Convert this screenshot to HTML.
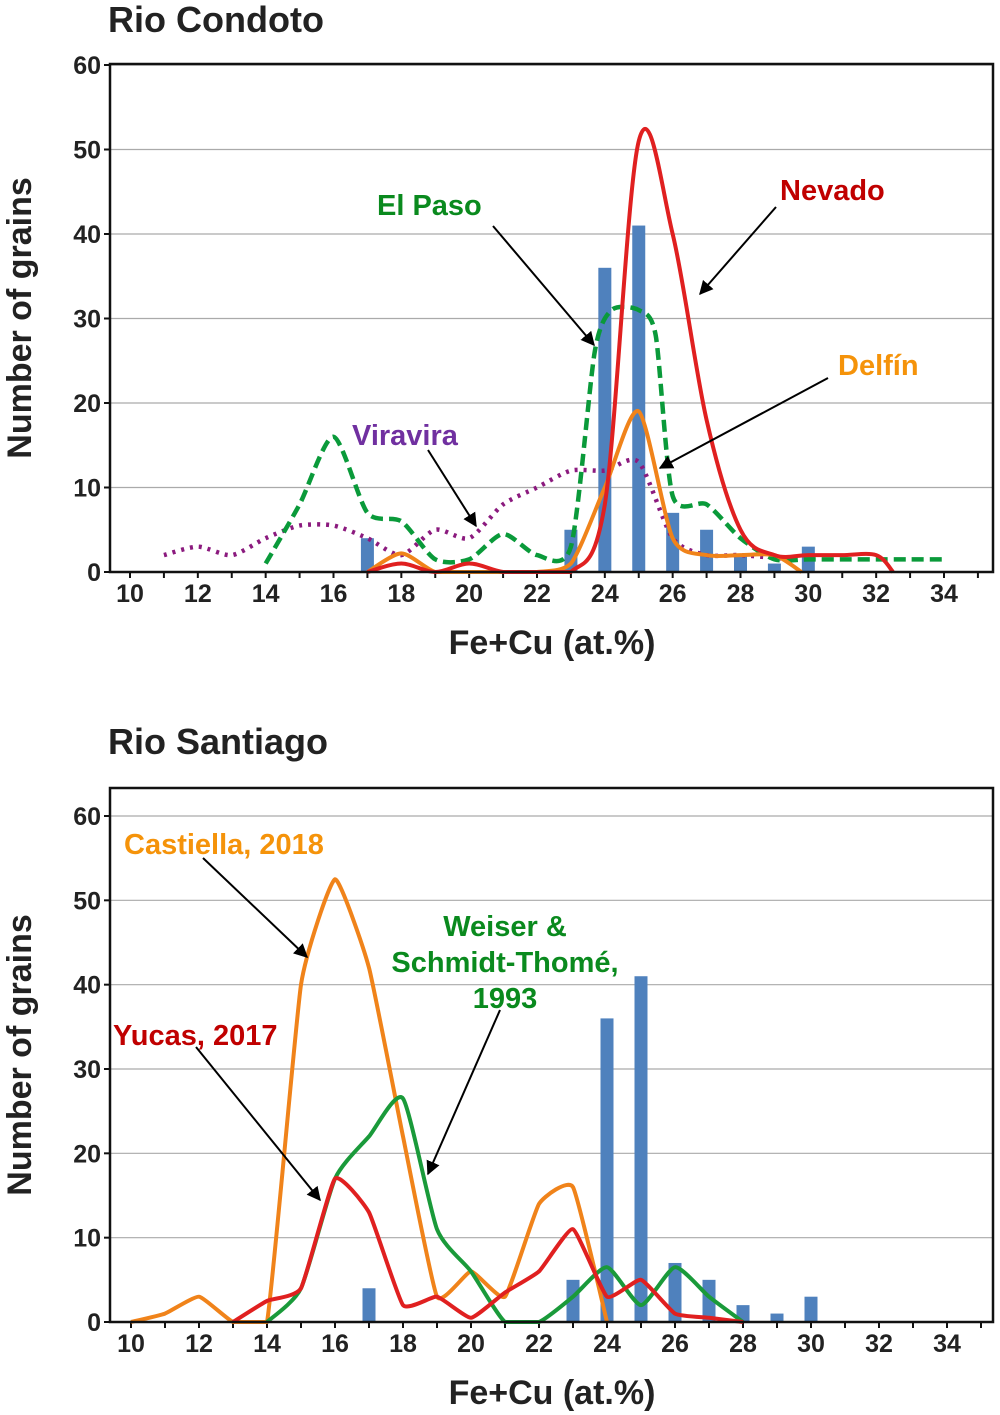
<!DOCTYPE html>
<html><head><meta charset="utf-8"><style>
body{margin:0;background:#fff;}
svg{display:block;font-family:"Liberation Sans",Arial,sans-serif;font-weight:bold;}
</style></head><body>
<svg id="c" width="1000" height="1415" viewBox="0 0 1000 1415">
<defs><marker id="ah" viewBox="0 0 10 10" refX="9" refY="5" markerWidth="7" markerHeight="7" orient="auto"><path d="M0,0 L10,5 L0,10 z" fill="#000"/></marker></defs>
</svg>
<script>
const xTicks=[10,12,14,16,18,20,22,24,26,28,30,32,34];
const yTicks=[0,10,20,30,40,50,60];
const barX=[17,23,24,25,26,27,28,29,30];
const barY=[4,5,36,41,7,5,2,1,3];
const nevadoX=[17,18,19,20,21,22,23,24,25,26,27,28,29,30,31,32,32.5];
const nevadoY=[0,1,0,1,0,0,0,8,51,40,18,5,2,2,2,2,0];
const delfinX=[17,18,19,20,21,22,23,24,25,26,27,28,29,29.8];
const delfinY=[0,2.2,0,0,0,0,1,10,19,4,2,2,2,0];
const elpasoX=[14,15,16,17,18,19,20,21,22,23,23.7,24.2,25,25.5,26,27,28,29,30,31,32,33,34];
const elpasoY=[1,8,16,7,6,1.5,1.5,4.5,2,3,26,31,31,28,9,8,4,1.5,1.5,1.5,1.5,1.5,1.5];
const viraX=[11,12,13,14,15,16,17,18,19,20,21,22,23,24,25,26,27,28,29.5];
const viraY=[2,3,2,4,5.5,5.5,4,2,5,4,8,10,12,12,13,4,2,2,1.5];
const castX=[10,11,12,13,14,15,16,17,18,19,20,21,22,23,24];
const castY=[0,1,3,0,0,40,52.5,42,22,3,6,3,14,16,0];
const yucasX=[13,14,15,16,17,18,19,20,21,22,23,24,25,26,27,28];
const yucasY=[0,2.5,4,17,13,2,3,0.5,3.5,6,11,3,5,1,0.5,0];
const weiserX=[14,15,16,17,18,19,20,21,22,23,24,25,26,27,28];
const weiserY=[0,4,17,22,26.5,11,6,0,0,3,6.5,2,6.5,3,0];

const S=document.getElementById('c');const NS='http://www.w3.org/2000/svg';
function mk(t,a,p){const e=document.createElementNS(NS,t);for(const k in a)e.setAttribute(k,a[k]);(p||S).appendChild(e);return e;}
function txt(x,y,s,size,fill,anchor,p){const e=mk('text',{x:x,y:y,'font-size':size,fill:fill,'text-anchor':anchor||'start'},p);e.textContent=s;return e;}
function smooth(pts,t,ymax){const c=v=>Math.min(v,ymax);let d='M'+pts[0][0]+','+pts[0][1];for(let i=0;i<pts.length-1;i++){const p0=pts[i-1]||pts[i],p1=pts[i],p2=pts[i+1],p3=pts[i+2]||p2;d+=' C'+(p1[0]+(p2[0]-p0[0])/t)+','+c(p1[1]+(p2[1]-p0[1])/t)+' '+(p2[0]-(p3[0]-p1[0])/t)+','+c(p2[1]-(p3[1]-p1[1])/t)+' '+p2[0]+','+p2[1];}return d;}

function chart(cfg){
  const g=mk('g',{});
  
  
  const X=v=>cfg.x0+(v-10)*(cfg.x1-cfg.x0)/24, Y=v=>cfg.y0-v*(cfg.y0-cfg.y60)/60;
  yTicks.forEach(t=>{if(t>0){const l=mk('line',{x1:110,x2:993,y1:Y(t),y2:Y(t),stroke:'#aaa','stroke-width':1.2},g);}
    const tl=txt(101,Y(t)+9,String(t),25,'#222','end',g);
    mk('line',{x1:104,x2:110,y1:Y(t),y2:Y(t),stroke:'#111','stroke-width':2},g);});
  for(let v=10;v<=35;v++){mk('line',{x1:X(v),x2:X(v),y1:cfg.y0,y2:cfg.y0+6,stroke:'#111','stroke-width':2},g);}
  xTicks.forEach(t=>{const tl=txt(X(t),cfg.y0+30,String(t),25,'#222','middle',g);});
  barX.forEach((b,i)=>{const r=mk('rect',{x:X(b)-6.5,y:Y(barY[i]),width:13,height:cfg.y0-Y(barY[i]),fill:'#4f81bd'},g);});
  cfg.series.forEach(s=>{const pts=s.x.map((v,i)=>[X(v),Y(s.y[i])]);const p=mk('path',{d:smooth(pts,s.t||8,cfg.y0),fill:'none',stroke:s.c,'stroke-width':s.w||4,'stroke-dasharray':s.dash||'none','stroke-linejoin':'round'},g);});
  const f=mk('rect',{x:110,y:cfg.top,width:883,height:cfg.y0-cfg.top,fill:'none',stroke:'#111','stroke-width':2.5},g);
  const tt=txt(108,cfg.titleY,cfg.title,36,'#222','start',g);
  const xt=txt(552,cfg.y0+82,'Fe+Cu (at.%)',34,'#222','middle',g);
  const yt=txt(0,0,'Number of grains',34,'#222','middle',g);yt.setAttribute('transform','translate(31,'+(cfg.y0+cfg.top)/2+') rotate(-90)');
  cfg.labels.forEach(L=>{L.t.forEach((s,i)=>{const e=txt(L.x,L.y+i*36,s,29,L.c,L.a||'start',g);});
    const a=mk('line',{x1:L.ax1,y1:L.ay1,x2:L.ax2,y2:L.ay2,stroke:'#000','stroke-width':2,'marker-end':'url(#ah)'},g);});
}
chart({name:'rio-condoto-chart',title:'Rio Condoto',titleY:32,x0:130,x1:944,y0:572,y60:65,top:64,
 series:[{name:'viravira-line',x:viraX,y:viraY,c:'#8b1a7e',w:4.5,dash:'3 6'},
 {name:'el-paso-line',x:elpasoX,y:elpasoY,c:'#0a9a3a',w:4.5,dash:'12 6'},
 {name:'delfin-line',x:delfinX,y:delfinY,c:'#f0831a'},
 {name:'nevado-line',x:nevadoX,y:nevadoY,c:'#e02020',t:6}],
 labels:[{name:'el-paso-label',t:['El Paso'],x:377,y:215,c:'#0a8a1e',ax1:493,ay1:226,ax2:594,ay2:345},
 {name:'nevado-label',t:['Nevado'],x:780,y:200,c:'#c00000',ax1:776,ay1:207,ax2:700,ay2:294},
 {name:'delfin-label',t:['Delfín'],x:838,y:375,c:'#f5930a',ax1:828,ay1:378,ax2:660,ay2:468},
 {name:'viravira-label',t:['Viravira'],x:352,y:445,c:'#7030a0',ax1:428,ay1:450,ax2:476,ay2:526}]});
chart({name:'rio-santiago-chart',title:'Rio Santiago',titleY:754,x0:131,x1:947,y0:1322,y60:816,top:788,
 series:[{name:'castiella-line',x:castX,y:castY,c:'#f0831a',t:14},
 {name:'weiser-line',x:weiserX,y:weiserY,c:'#1a9a3a',t:10},
 {name:'yucas-line',x:yucasX,y:yucasY,c:'#e02020',t:14}],
 labels:[{name:'castiella-label',t:['Castiella, 2018'],x:124,y:854,c:'#f5930a',ax1:203,ay1:858,ax2:307,ay2:957},
 {name:'weiser-label',t:['Weiser &','Schmidt-Thomé,','1993'],x:505,y:936,c:'#0a8a1e',a:'middle',ax1:500,ay1:1010,ax2:428,ay2:1174},
 {name:'yucas-label',t:['Yucas, 2017'],x:113,y:1045,c:'#c00000',ax1:196,ay1:1047,ax2:320,ay2:1200}]});
</script>
</body></html>
